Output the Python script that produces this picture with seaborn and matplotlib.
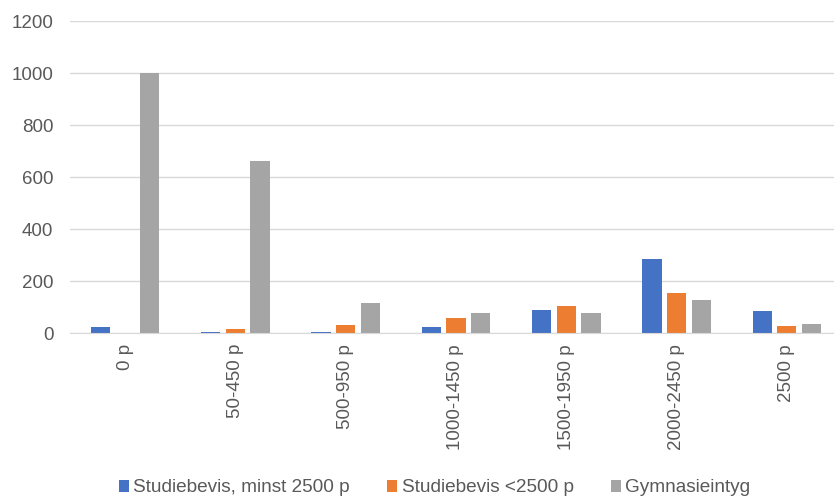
import numpy as np
import pandas as pd
import seaborn as sns
import matplotlib.pyplot as plt
from matplotlib.patches import Patch

categories = ["0 p", "50-450 p", "500-950 p", "1000-1450 p", "1500-1950 p", "2000-2450 p", "2500 p"]
series = ["Studiebevis, minst 2500 p", "Studiebevis <2500 p", "Gymnasieintyg"]
studiebevis_minst = [24, 5, 5, 24, 88, 286, 85]
studiebevis_under = [0, 14, 30, 57, 102, 153, 27]
gymnasieintyg = [1000, 663, 115, 78, 77, 128, 34]
colors = ["#4472C4", "#ED7D31", "#A5A5A5"]

df = pd.DataFrame({
    "kategori": categories * 3,
    "serie": [series[0]] * 7 + [series[1]] * 7 + [series[2]] * 7,
    "antal": studiebevis_minst + studiebevis_under + gymnasieintyg,
})

sns.set_style("white")
plt.rcParams["font.family"] = ["Liberation Sans", "DejaVu Sans"]

fig = plt.figure(figsize=(8.34, 4.97), dpi=100)
ax = fig.add_axes([70 / 834, 1 - 333 / 497, 772 / 834, 312 / 497])

sns.barplot(data=df, x="kategori", y="antal", hue="serie", palette=colors,
            saturation=1, width=0.67, gap=0.22, ax=ax, legend=False,
            linewidth=0)

ax.set_ylim(0, 1200)
ax.set_yticks(range(0, 1201, 200))
ax.yaxis.grid(True, color="#D9D9D9", linewidth=1)
ax.set_axisbelow(True)
ax.set_xlim(-0.5, 6.5)
for s in ["top", "right", "left"]:
    ax.spines[s].set_visible(False)
ax.spines["bottom"].set_color("#D9D9D9")
ax.tick_params(axis="both", length=0, labelsize=13.5, labelcolor="#595959")
ax.tick_params(axis="y", pad=12)
ax.tick_params(axis="x", pad=8)
ax.set_xticks(range(len(categories)))
ax.set_xticklabels(categories, rotation=90)
ax.set_xlabel("")
ax.set_ylabel("")

handles = [Patch(facecolor=c, edgecolor="none") for c in colors]
leg = fig.legend(handles, series, loc="center", ncol=3, frameon=False,
                 bbox_to_anchor=(0.521, 1 - 488 / 497), fontsize=13.7,
                 handlelength=0.55, handleheight=0.55, handletextpad=0.22,
                 columnspacing=1.95)
for t in leg.get_texts():
    t.set_color("#595959")

fig.savefig("out.png", dpi=100)
